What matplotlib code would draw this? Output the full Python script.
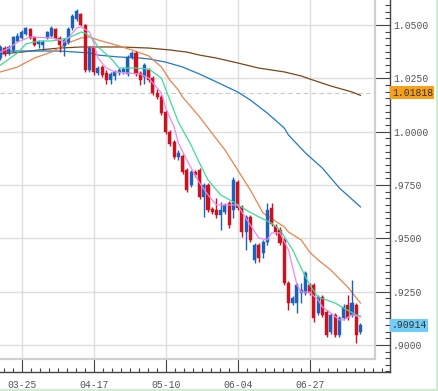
import numpy as np
import matplotlib
matplotlib.use("Agg")
import matplotlib.pyplot as plt
import matplotlib.transforms as mtransforms
from matplotlib.patches import Rectangle
from matplotlib.ticker import FixedLocator, MultipleLocator

# ---------------- data ----------------
opens = [1.0345, 1.0392, 1.0369, 1.0383, 1.0425, 1.0439, 1.0458, 1.0481, 1.0444, 1.0411,
         1.0406, 1.0439, 1.0448, 1.0481, 1.0439, 1.0402, 1.0420, 1.0486, 1.0528, 1.0552,
         1.0500, 1.0289, 1.0392, 1.0275, 1.0303, 1.0275, 1.0242, 1.0261, 1.0275, 1.0280,
         1.0270, 1.0350, 1.0369, 1.0275, 1.0256, 1.0289, 1.0251, 1.0181, 1.0162, 1.0092,
         0.9998, 0.9951, 0.9881, 0.9886, 0.9820, 0.9750, 0.9811, 0.9820, 0.9693, 0.9750,
         0.9637, 0.9632, 0.9609, 0.9623, 0.9665, 0.9632, 0.9764, 0.9647, 0.9529, 0.9600,
         0.9398, 0.9468, 0.9431, 0.9482, 0.9642, 0.9557, 0.9539, 0.9492, 0.9290, 0.9196,
         0.9196, 0.9243, 0.9243, 0.9281, 0.9281, 0.9149, 0.9224, 0.9154, 0.9060, 0.9140,
         0.9046, 0.9126, 0.9187, 0.9140, 0.9187, 0.9060]
highs = [1.0406, 1.0402, 1.0406, 1.0448, 1.0463, 1.0477, 1.0491, 1.0486, 1.0448, 1.0430,
         1.0430, 1.0472, 1.0495, 1.0486, 1.0448, 1.0439, 1.0491, 1.0552, 1.0575, 1.0556,
         1.0505, 1.0402, 1.0402, 1.0308, 1.0312, 1.0289, 1.0280, 1.0289, 1.0298, 1.0303,
         1.0359, 1.0378, 1.0378, 1.0284, 1.0322, 1.0298, 1.0261, 1.0200, 1.0172, 1.0101,
         1.0008, 0.9961, 0.9914, 0.9895, 0.9829, 0.9820, 0.9820, 0.9829, 0.9759, 0.9759,
         0.9647, 0.9689, 0.9670, 0.9665, 0.9675, 0.9787, 0.9773, 0.9656, 0.9609, 0.9609,
         0.9478, 0.9478, 0.9492, 0.9665, 0.9665, 0.9567, 0.9553, 0.9501, 0.9299, 0.9229,
         0.9290, 0.9290, 0.9346, 0.9290, 0.9290, 0.9234, 0.9234, 0.9164, 0.9149, 0.9149,
         0.9135, 0.9192, 0.9234, 0.9304, 0.9196, 0.9102]
lows = [1.0336, 1.0355, 1.0359, 1.0373, 1.0420, 1.0434, 1.0453, 1.0434, 1.0402, 1.0392,
        1.0383, 1.0434, 1.0444, 1.0430, 1.0373, 1.0355, 1.0411, 1.0477, 1.0519, 1.0495,
        1.0280, 1.0280, 1.0266, 1.0266, 1.0256, 1.0223, 1.0223, 1.0242, 1.0266, 1.0270,
        1.0261, 1.0341, 1.0261, 1.0219, 1.0223, 1.0233, 1.0172, 1.0153, 1.0078, 0.9989,
        0.9933, 0.9872, 0.9867, 0.9801, 0.9717, 0.9740, 0.9787, 0.9684, 0.9600, 0.9623,
        0.9614, 0.9595, 0.9539, 0.9614, 0.9548, 0.9595, 0.9632, 0.9506, 0.9445, 0.9482,
        0.9384, 0.9388, 0.9407, 0.9468, 0.9557, 0.9515, 0.9468, 0.9281, 0.9164, 0.9187,
        0.9149, 0.9196, 0.9234, 0.9234, 0.9107, 0.9140, 0.9131, 0.9037, 0.9051, 0.9037,
        0.9037, 0.9117, 0.9117, 0.9131, 0.9009, 0.9051]
closes = [1.0397, 1.0364, 1.0397, 1.0444, 1.0448, 1.0467, 1.0486, 1.0439, 1.0406, 1.0420,
          1.0420, 1.0467, 1.0486, 1.0439, 1.0406, 1.0430, 1.0481, 1.0542, 1.0566, 1.0500,
          1.0289, 1.0392, 1.0280, 1.0298, 1.0266, 1.0242, 1.0270, 1.0280, 1.0289, 1.0294,
          1.0350, 1.0369, 1.0270, 1.0242, 1.0312, 1.0242, 1.0181, 1.0162, 1.0087, 0.9998,
          0.9942, 0.9881, 0.9900, 0.9811, 0.9726, 0.9811, 0.9797, 0.9693, 0.9750, 0.9632,
          0.9623, 0.9609, 0.9632, 0.9656, 0.9562, 0.9773, 0.9642, 0.9529, 0.9600, 0.9492,
          0.9468, 0.9407, 0.9482, 0.9632, 0.9567, 0.9529, 0.9478, 0.9290, 0.9196, 0.9220,
          0.9281, 0.9257, 0.9337, 0.9243, 0.9126, 0.9224, 0.9140, 0.9046, 0.9140, 0.9046,
          0.9126, 0.9178, 0.9126, 0.9196, 0.9046, 0.90914]

tick_idx = [5, 22, 39, 56, 73]
tick_labels = ["03-25", "04-17", "05-10", "06-04", "06-27"]
y_ticks = [0.900, 0.925, 0.950, 0.975, 1.000, 1.025, 1.050]

ma5_idx = [0, 2, 4, 7, 12, 14, 15, 16, 18, 19, 21, 22, 23, 25, 27, 30, 33, 35, 38, 39,
           41, 42, 44, 47, 49, 51, 54, 56, 57, 59, 61, 63, 64, 66, 68, 70, 71, 73, 75, 76,
           78, 80, 81, 83, 85]
ma5_val = [1.0373, 1.0392, 1.0420, 1.0444, 1.0439, 1.0430, 1.0420, 1.0439, 1.0486, 1.0491,
           1.0467, 1.0416, 1.0345, 1.0298, 1.0280, 1.0275, 1.0270, 1.0251, 1.0181, 1.0111,
           1.0022, 0.9947, 0.9867, 0.9759, 0.9703, 0.9656, 0.9656, 0.9656, 0.9623, 0.9562,
           0.9501, 0.9492, 0.9525, 0.9525, 0.9445, 0.9281, 0.9248, 0.9248, 0.9210, 0.9178,
           0.9149, 0.9117, 0.9117, 0.9140, 0.9131]

ma10_idx = [0, 4, 6, 9, 12, 16, 19, 20, 22, 23, 26, 28, 32, 35, 38, 40, 42, 45, 47, 49,
            52, 55, 58, 61, 64, 66, 69, 71, 73, 75, 79, 81, 84, 85]
ma10_val = [1.0312, 1.0369, 1.0411, 1.0425, 1.0425, 1.0439, 1.0467, 1.0463, 1.0430, 1.0397,
            1.0345, 1.0298, 1.0298, 1.0294, 1.0251, 1.0148, 1.0045, 0.9937, 0.9853, 0.9773,
            0.9703, 0.9670, 0.9632, 0.9600, 0.9571, 0.9539, 0.9445, 0.9360, 0.9281, 0.9224,
            0.9196, 0.9173, 0.9140, 0.9135]

ma20_idx = [0, 4, 8, 12, 16, 19, 21, 23, 28, 31, 35, 38, 40, 42, 43, 45, 47, 49, 53, 56,
            59, 62, 67, 68, 71, 73, 75, 78, 82, 85]
ma20_val = [1.0280, 1.0303, 1.0345, 1.0373, 1.0416, 1.0439, 1.0444, 1.0430, 1.0402, 1.0383,
            1.0355, 1.0303, 1.0242, 1.0195, 1.0162, 1.0116, 1.0069, 1.0017, 0.9914, 0.9820,
            0.9726, 0.9618, 0.9553, 0.9529, 0.9492, 0.9435, 0.9398, 0.9351, 0.9271, 0.9196]

ma50_idx = [0, 7, 14, 21, 23, 28, 33, 35, 39, 43, 47, 51, 56, 59, 63, 67, 68, 72, 76, 80, 85]
ma50_val = [1.0378, 1.0378, 1.0378, 1.0369, 1.0359, 1.0350, 1.0345, 1.0341, 1.0326, 1.0303,
            1.0270, 1.0233, 1.0186, 1.0148, 1.0087, 1.0017, 0.9984, 0.9900, 0.9829, 0.9736,
            0.9647]

ma100_idx = [0, 5, 9, 14, 19, 23, 28, 35, 40, 44, 47, 51, 56, 61, 67, 71, 73, 78, 83, 85]
ma100_val = [1.0364, 1.0373, 1.0383, 1.0392, 1.0397, 1.0397, 1.0397, 1.0392, 1.0383, 1.0373,
             1.0359, 1.0345, 1.0322, 1.0298, 1.0280, 1.0261, 1.0247, 1.0214, 1.0186, 1.0170]

ref_price = 1.01818
last_price = 0.90914

# ---------------- layout ----------------
W, H = 439, 391
PX_IDX = 4.235        # pixels per candle
PX_VAL = 0.000469     # price per pixel
X0 = -0.118
Y_TOP = 1.06173

UP = "#1c62bd"
DOWN = "#cc111f"
MONO = ["Liberation Mono", "DejaVu Sans Mono"]

fig = plt.figure(figsize=(W / 100, H / 100), dpi=100)
fig.patch.set_facecolor("white")

ax = fig.add_axes([0, (H - 359) / H, 375 / W, 359 / H])
ax2 = fig.add_axes([0, (H - 372) / H, 390 / W, 372 / H])
ax2.set_zorder(0)
ax.set_zorder(1)
ax2.patch.set_alpha(0)

ax.set_xlim(X0, X0 + 375 / PX_IDX)
ax.set_ylim(Y_TOP - 359 * PX_VAL, Y_TOP)
ax2.set_xlim(X0, X0 + 390 / PX_IDX)
ax2.set_ylim(Y_TOP - 372 * PX_VAL, Y_TOP)

# grid
ax.set_xticks(tick_idx)
ax.set_yticks(y_ticks)
ax.grid(True, color="#dedede", lw=1.0)
ax.set_axisbelow(True)
ax.tick_params(length=0, labelbottom=False, labelleft=False)
for s in ["top", "left"]:
    ax.spines[s].set_visible(False)
for s in ["right", "bottom"]:
    ax.spines[s].set_color("#cfcfcf")
    ax.spines[s].set_linewidth(1.6)

ax.axhline(ref_price, color="#c8c8c8", lw=0.8, ls=(0, (4, 3)), zorder=1)

# moving averages
ax.plot(ma100_idx, ma100_val, color="#7b4716", lw=0.9, zorder=2)
ax.plot(ma50_idx, ma50_val, color="#1f78c6", lw=0.9, zorder=2)
ax.plot(ma20_idx, ma20_val, color="#e8844c", lw=0.9, zorder=2)

# candles
idx = np.arange(len(opens))
o = np.array(opens); c = np.array(closes); h = np.array(highs); l = np.array(lows)
cols = np.where(c >= o, UP, DOWN)
ax.vlines(idx, l, h, colors=cols, lw=1.0, zorder=3)
bottoms = np.minimum(o, c)
heights = np.maximum(np.abs(c - o), 0.0004)
ax.bar(idx, heights, bottom=bottoms, width=0.72, color=cols, edgecolor=cols, lw=0.3, zorder=4)

ax.plot(ma10_idx, ma10_val, color="#3ddc97", lw=0.9, zorder=5)
ax.plot(ma5_idx, ma5_val, color="#ee88ee", lw=0.9, zorder=5)

# frame axes with ticks
for s in ["top", "left"]:
    ax2.spines[s].set_visible(False)
for s in ["right", "bottom"]:
    ax2.spines[s].set_color("#444444")
    ax2.spines[s].set_linewidth(1.0)
ax2.yaxis.tick_right()
ax2.yaxis.set_major_locator(FixedLocator(y_ticks))
ax2.set_yticklabels([f"{v:.4f}" if v >= 1 else f"{v:.4f}"[1:] for v in y_ticks],
                    family=MONO, fontsize=7, color="#555555")
ax2.yaxis.set_minor_locator(MultipleLocator(0.025 / 8))
ax2.xaxis.set_major_locator(FixedLocator(tick_idx))
ax2.set_xticklabels(tick_labels, family=MONO, fontsize=7, color="#555555")
ax2.xaxis.set_minor_locator(FixedLocator(np.arange(5 - 17 / 8 * 2, 92, 17 / 8)))
ax2.tick_params(axis="y", which="major", direction="in", length=10.8, width=0.8,
                color="#444444", pad=2)
ax2.tick_params(axis="y", which="minor", direction="in", length=3.6, width=0.8,
                color="#444444")
ax2.tick_params(axis="x", which="major", direction="in", length=9.4, width=0.8,
                color="#444444", pad=6)
ax2.tick_params(axis="x", which="minor", direction="in", length=2.9, width=0.8,
                color="#444444")

# price labels on the right
trans = mtransforms.blended_transform_factory(fig.transFigure, ax.transData)
for price, fc, txt in [(ref_price, "#f7a11a", "1.01818"), (last_price, "#6fcdf6", ".90914")]:
    hh = 13 * PX_VAL
    wpx = 44 if price >= 1 else 38
    fig.patches.append(Rectangle((390 / W, price - hh / 2), wpx / W, hh,
                                 transform=trans, facecolor=fc, edgecolor="none", zorder=5))
    fig.text(392 / W, price, txt, transform=trans, ha="left", va="center",
             family=MONO, fontsize=7, color="#333333", zorder=6)

# thin green window edges
fig.patches.append(Rectangle((436 / W, 0), 3 / W, 1, transform=fig.transFigure,
                             facecolor="#cdeecd", edgecolor="none"))
fig.patches.append(Rectangle((0, 0), 1, 2 / H, transform=fig.transFigure,
                             facecolor="#cdeecd", edgecolor="none"))

fig.savefig("out.png", dpi=100, facecolor="white")
